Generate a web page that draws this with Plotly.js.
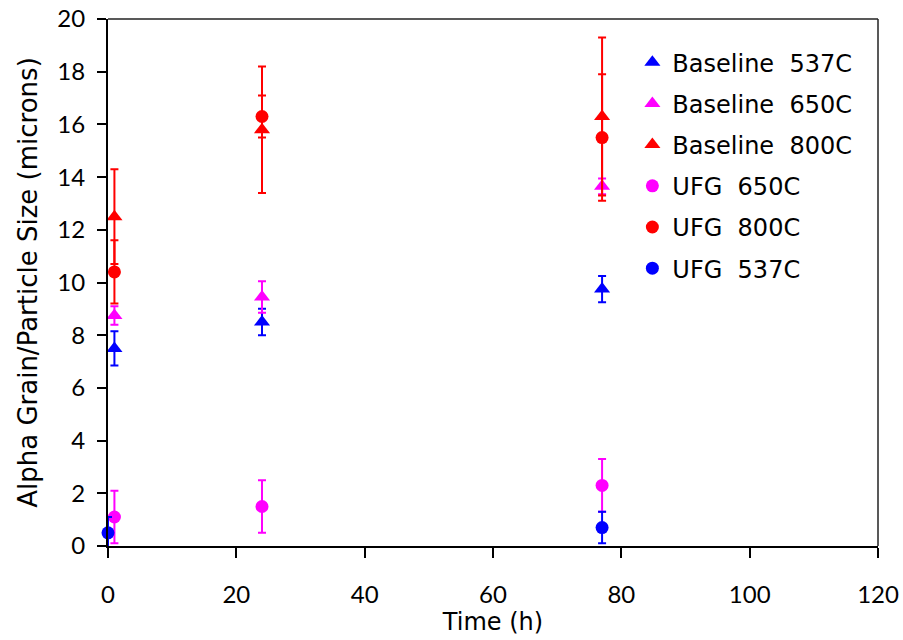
<!DOCTYPE html>
<html><head><meta charset="utf-8">
<script src="https://cdn.plot.ly/plotly-3.0.1.min.js"></script>
<style>html,body{margin:0;padding:0;background:#fff}#chart{width:903px;height:640px}</style>
</head><body><div id="chart"></div>
<script>
var names = ["Baseline\u00a0 537C","Baseline\u00a0 650C","Baseline\u00a0 800C","UFG\u00a0 650C","UFG\u00a0 800C","UFG\u00a0 537C"];
var colors = ["#0000FF","#FF00FF","#FF0000","#FF00FF","#FF0000","#0000FF"];
var symbols = ["triangle-up","triangle-up","triangle-up","circle","circle","circle"];

var xBase = [1, 24, 77];
var yBase537 = [7.5, 8.5, 9.75];
var eBase537 = [0.65, 0.5, 0.5];
var yBase650 = [8.75, 9.45, 13.65];
var eBase650 = [0.35, 0.6, 0.3];
var yBase800 = [12.5, 15.8, 16.3];
var eBase800 = [1.8, 2.4, 3.0];
var xUfg = [1, 24, 77];
var yUfg650 = [1.1, 1.5, 2.3];
var eUfg650 = [1.0, 1.0, 1.0];
var yUfg800 = [10.4, 16.3, 15.5];
var eUfg800 = [1.2, 0.8, 2.4];
var xUfg537 = [0, 77];
var yUfg537 = [0.5, 0.7];
var eUfg537 = [0.6, 0.6];

var xs = [xBase, xBase, xBase, xUfg, xUfg, xUfg537];
var ys = [yBase537, yBase650, yBase800, yUfg650, yUfg800, yUfg537];
var es = [eBase537, eBase650, eBase800, eUfg650, eUfg800, eUfg537];

var traces = names.map(function(n, i){
  return {
    type: "scatter", mode: "markers", name: n, x: xs[i], y: ys[i],
    legendgroup: "g"+i, cliponaxis: false,
    marker: {symbol: symbols[i], color: colors[i], size: symbols[i]==="circle" ? 13 : 14},
    error_y: {type: "data", array: es[i], visible: true, color: colors[i], thickness: 2, width: 4}
  };
});

var TICKFONT = "Lato, 'Open Sans', sans-serif";
var FONT = "'DejaVu Sans', 'Open Sans', sans-serif";
var layout = {
  width: 903, height: 640,
  margin: {l: 108, r: 25, t: 19, b: 94},
  paper_bgcolor: "#fff", plot_bgcolor: "#fff",
  showlegend: true,
  legend: {x: 0.681, y: 0.96, xanchor: "left", yanchor: "top", bgcolor: "rgba(0,0,0,0)",
           font: {family: FONT, size: 24, color: "#000"}, tracegroupgap: 7, traceorder: "grouped"},
  xaxis: {range: [0, 120], dtick: 20, showgrid: false, zeroline: false,
          showline: true, linecolor: "#000", linewidth: 2, mirror: false,
          ticks: "outside", ticklen: 10, tickwidth: 2, tickcolor: "#000", ticklabelstandoff: 16,
          tickfont: {family: TICKFONT, size: 24, color: "#000"},
          title: {text: "Time (h)", font: {family: FONT, size: 24, color: "#000"}, standoff: 1}},
  yaxis: {range: [0, 20], dtick: 2, showgrid: false, zeroline: false,
          showline: true, linecolor: "#000", linewidth: 2,
          ticks: "outside", ticklen: 9, tickwidth: 2, tickcolor: "#000", ticklabelstandoff: 7,
          tickfont: {family: TICKFONT, size: 24, color: "#000"},
          title: {text: "Alpha Grain/Particle Size (microns)", font: {family: FONT, size: 26, color: "#000"}, standoff: 12}},
  shapes: [
    {type: "line", xref: "paper", yref: "paper", x0: 0, x1: 1, y0: 1, y1: 1, line: {color: "#222", width: 1.5}},
    {type: "line", xref: "paper", yref: "paper", x0: 1, x1: 1, y0: 0, y1: 1, line: {color: "#222", width: 1.5}}
  ]
};
Plotly.newPlot("chart", traces, layout, {displayModeBar: false, staticPlot: true});
</script></body></html>
